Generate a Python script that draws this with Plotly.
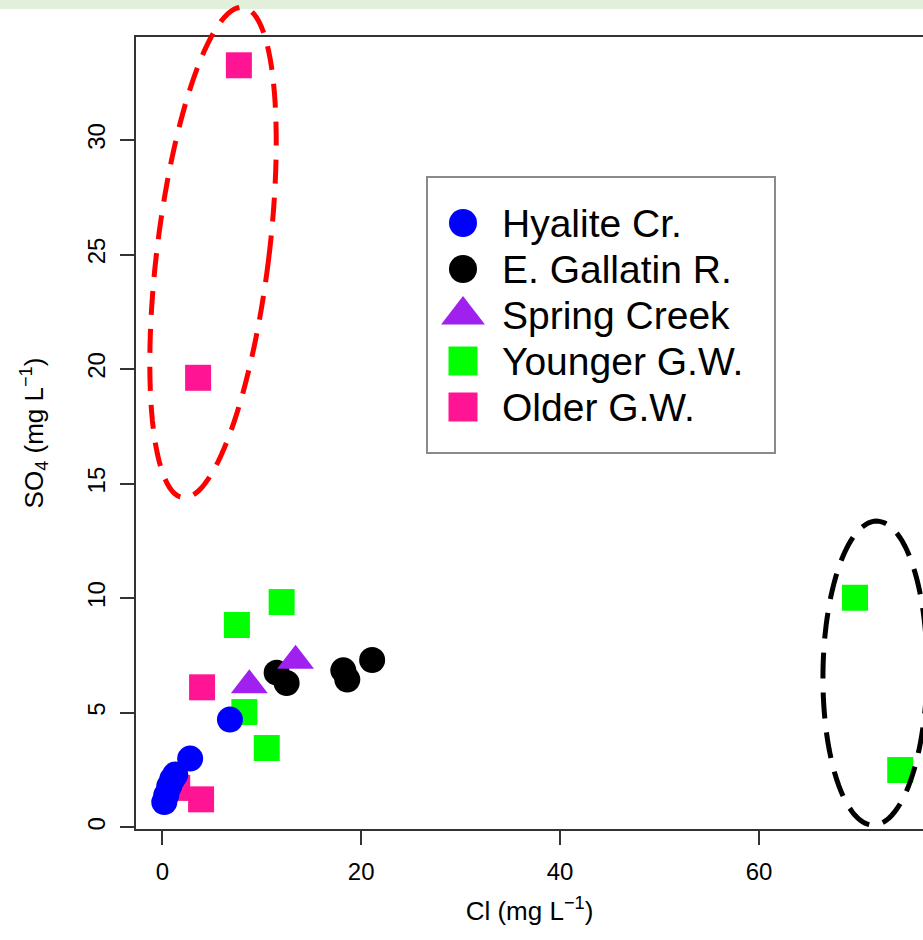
import numpy as np
import plotly.graph_objects as go

# ---------------- data ----------------
hyalite_cl = [0.2, 0.4, 0.7, 1.0, 1.3, 2.8, 6.8]
hyalite_so4 = [1.1, 1.4, 1.8, 2.1, 2.3, 3.0, 4.7]

gallatin_cl = [11.5, 12.5, 18.2, 18.6, 21.1]
gallatin_so4 = [6.75, 6.3, 6.85, 6.45, 7.3]

spring_cl = [8.75, 13.4]
spring_so4 = [6.2, 7.27]

younger_cl = [12.0, 7.5, 8.25, 10.5, 69.65, 74.2]
younger_so4 = [9.83, 8.83, 5.03, 3.46, 10.02, 2.5]

older_cl = [7.7, 3.6, 4.0, 3.9, 1.5]
older_so4 = [33.26, 19.62, 6.11, 1.22, 1.72]

legend_names = ["Hyalite Cr.", "E. Gallatin R.", "Spring Creek", "Younger G.W.", "Older G.W."]

x_ticks = [0, 20, 40, 60]
y_ticks = [0, 5, 10, 15, 20, 25, 30]

# ---------------- layout geometry ----------------
W, H = 923, 940
M_L, M_R, M_T, M_B = 136, 0, 37, 111
X_RANGE = [-2.645, 76.49]
Y_RANGE = [-0.074, 34.495]
PW = W - M_L - M_R
PH = H - M_T - M_B


def data_to_px(x, y):
    px = M_L + (x - X_RANGE[0]) / (X_RANGE[1] - X_RANGE[0]) * PW
    py = M_T + (Y_RANGE[1] - y) / (Y_RANGE[1] - Y_RANGE[0]) * PH
    return px, py


def px_to_paper(px, py):
    return (px - M_L) / PW, (H - M_B - py) / PH


def ellipse_path(cx, cy, a_px, b_px, tilt_deg, n=120):
    pcx, pcy = data_to_px(cx, cy)
    t = np.linspace(0, 2 * np.pi, n, endpoint=False)
    th = np.deg2rad(tilt_deg)
    u = b_px * np.cos(t)
    v = a_px * np.sin(t)
    px = pcx + u * np.cos(th) + v * np.sin(th)
    py = pcy + u * np.sin(th) - v * np.cos(th)
    pts = [px_to_paper(x, y) for x, y in zip(px, py)]
    return "M " + " L ".join(f"{x:.5f},{y:.5f}" for x, y in pts) + " Z"


FONT = "Liberation Sans, Arial, sans-serif"

styles = {
    "Hyalite Cr.": dict(color="#0000FF", symbol="circle", size=26, lsize=28),
    "E. Gallatin R.": dict(color="#000000", symbol="circle", size=26, lsize=28),
    "Spring Creek": dict(color="#A020F0", symbol="triangle-up", size=32, lsize=38),
    "Younger G.W.": dict(color="#00FF00", symbol="square", size=26, lsize=29),
    "Older G.W.": dict(color="#FF1493", symbol="square", size=26, lsize=29),
}
values = {
    "Hyalite Cr.": (hyalite_cl, hyalite_so4),
    "E. Gallatin R.": (gallatin_cl, gallatin_so4),
    "Spring Creek": (spring_cl, spring_so4),
    "Younger G.W.": (younger_cl, younger_so4),
    "Older G.W.": (older_cl, older_so4),
}
draw_order = ["Younger G.W.", "Older G.W.", "E. Gallatin R.", "Spring Creek", "Hyalite Cr."]

fig = go.Figure()
for name in draw_order:
    st = styles[name]
    xs, ys = values[name]
    fig.add_trace(go.Scatter(
        x=xs, y=ys, mode="markers", name=name, showlegend=False,
        marker=dict(color=st["color"], symbol=st["symbol"], size=st["size"],
                    line=dict(width=0)),
        cliponaxis=False, xaxis="x", yaxis="y",
    ))

# ---------------- legend box (own small axes, pixel units inside box) ----------------
LG_L, LG_T, LG_R, LG_B = 427, 177, 775, 453
lg_x0, lg_y1 = px_to_paper(LG_L, LG_T)
lg_x1, lg_y0 = px_to_paper(LG_R, LG_B)
ROW0, ROW_STEP, KEY_X, TEXT_X = 46, 46, 36, 73

annotations = []
for i, name in enumerate(legend_names):
    st = styles[name]
    row_y = ROW0 + i * ROW_STEP
    fig.add_trace(go.Scatter(
        x=[KEY_X], y=[row_y], mode="markers", name=name, showlegend=False,
        hoverinfo="skip", xaxis="x2", yaxis="y2", cliponaxis=False,
        marker=dict(color=st["color"], symbol=st["symbol"], size=st["lsize"],
                    line=dict(width=0)),
    ))
    annotations.append(dict(
        xref="x2", yref="y2", x=TEXT_X, y=row_y, text=name, showarrow=False,
        xanchor="left", yanchor="middle", font=dict(size=39, family=FONT, color="black"),
    ))

# top green band of the slide
bx0, by0 = px_to_paper(0, 0)
bx1, by1 = px_to_paper(W, 9)
shapes = [
    dict(type="rect", xref="paper", yref="paper", x0=bx0, x1=bx1, y0=by1, y1=by0,
         fillcolor="#E2EFDA", line=dict(width=0), layer="below"),
    dict(type="rect", xref="paper", yref="paper", x0=lg_x0, x1=lg_x1, y0=lg_y0, y1=lg_y1,
         fillcolor="rgba(0,0,0,0)", line=dict(color="#8A8A8A", width=2)),
    dict(type="path", xref="paper", yref="paper",
         path=ellipse_path(5.1, 25.09, 247, 56, 7),
         line=dict(color="#FF0000", width=5, dash="24px,14px")),
    dict(type="path", xref="paper", yref="paper",
         path=ellipse_path(71.66, 6.73, 152, 52, 0.7),
         line=dict(color="#000000", width=5, dash="26px,14px")),
]

fig.update_layout(
    width=W, height=H,
    margin=dict(l=M_L, r=M_R, t=M_T, b=M_B, pad=0),
    paper_bgcolor="white", plot_bgcolor="white",
    font=dict(family=FONT, color="black"),
    shapes=shapes,
    annotations=annotations,
    showlegend=False,
    xaxis=dict(range=X_RANGE, tickvals=x_ticks, ticks="outside", ticklen=14,
               tickwidth=1.5, tickcolor="#333", showline=True, linecolor="#333",
               linewidth=1.5, mirror=True, showgrid=False, zeroline=False,
               tickfont=dict(size=24), ticklabelstandoff=6,
               title=dict(text="Cl (mg L<sup>\u22121</sup>)", font=dict(size=26),
                          standoff=18)),
    yaxis=dict(range=Y_RANGE, tickvals=y_ticks, ticks="outside", ticklen=14,
               tickwidth=1.5, tickcolor="#333", showline=True, linecolor="#333",
               linewidth=1.5, mirror=False, showgrid=False, zeroline=False,
               tickangle=-90, tickfont=dict(size=24), ticklabelstandoff=6,
               title=dict(text="SO<sub>4</sub> (mg L<sup>\u22121</sup>)",
                          font=dict(size=26), standoff=32)),
    xaxis2=dict(domain=[lg_x0, lg_x1], range=[0, LG_R - LG_L], anchor="y2",
                visible=False, fixedrange=True),
    yaxis2=dict(domain=[lg_y0, lg_y1], range=[LG_B - LG_T, 0], anchor="x2",
                visible=False, fixedrange=True),
)

fig.write_html(
    "out.html",
    config={"displayModeBar": False},
    post_script="document.body.style.margin='0';document.body.style.overflow='hidden';",
)
